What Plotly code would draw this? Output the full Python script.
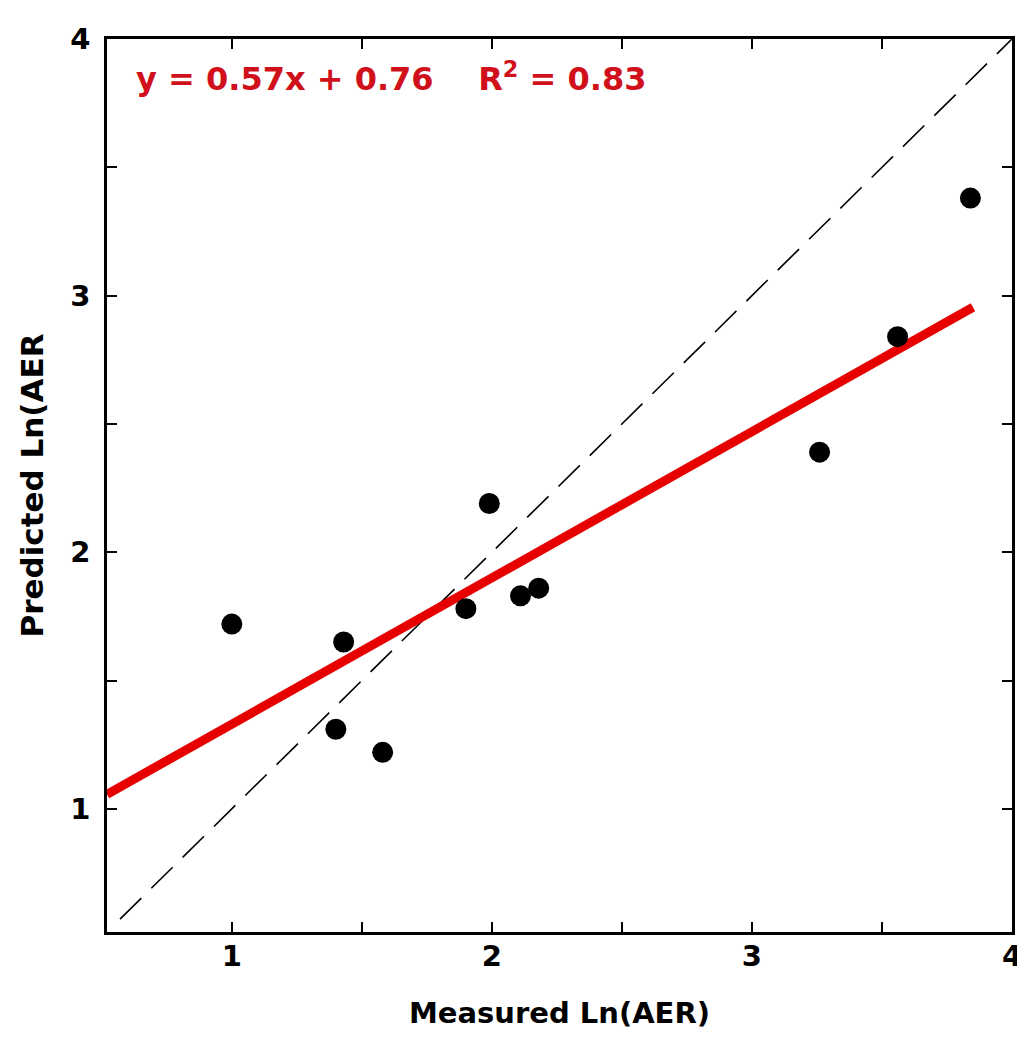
import plotly.graph_objects as go

# measured vs predicted Ln(AER)
measured = [1.00, 1.43, 1.40, 1.58, 1.90, 1.99, 2.11, 2.18, 3.26, 3.56, 3.84]
predicted = [1.72, 1.65, 1.31, 1.22, 1.78, 2.19, 1.83, 1.86, 2.39, 2.84, 3.38]

# regression fit y = slope*x + intercept
slope = 0.57
intercept = 0.76
r2 = 0.83
fit_x = [0.52, 3.85]
fit_y = [slope * v + intercept for v in fit_x]

# 1:1 line
identity = [0.57, 4.0]

axis_range = [0.52, 4.0]
tick_vals = [1, 2, 3, 4]

FONT = "DejaVu Sans"

fig = go.Figure()

fig.add_trace(go.Scatter(
    x=identity, y=identity, mode="lines",
    line=dict(color="black", width=1.6, dash="30px,14px"),
    showlegend=False,
))

fig.add_trace(go.Scatter(
    x=fit_x, y=fit_y, mode="lines",
    line=dict(color="#e60000", width=9),
    showlegend=False,
))

fig.add_trace(go.Scatter(
    x=measured, y=predicted, mode="markers",
    marker=dict(color="black", size=21),
    showlegend=False,
))

fig.add_annotation(
    x=0.03, y=0.957, xref="paper", yref="paper",
    xanchor="left", yanchor="middle", showarrow=False,
    text=f"<b>y = {slope:.2f}x + {intercept:.2f}    R<sup>2</sup> = {r2:.2f}</b>",
    font=dict(family=FONT, size=32, color="#d0101a"),
)

axis_common = dict(
    range=axis_range,
    tickvals=tick_vals,
    ticks="inside",
    ticklen=10,
    tickwidth=2,
    tickcolor="black",
    minor=dict(dtick=0.5, tick0=0, ticks="inside", ticklen=10,
               tickwidth=2, tickcolor="black"),
    showline=True,
    linecolor="black",
    linewidth=2.5,
    mirror="allticks",
    showgrid=False,
    zeroline=False,
    tickfont=dict(family=FONT, size=29, color="black", weight="bold"),
)

fig.update_xaxes(
    **axis_common,
    ticklabelstandoff=-4,
    title=dict(text="<b>Measured Ln(AER)</b>", standoff=32,
               font=dict(family=FONT, size=29, color="black")),
)
fig.update_yaxes(
    **axis_common,
    ticklabelstandoff=8,
    title=dict(text="<b>Predicted Ln(AER</b>", standoff=18,
               font=dict(family=FONT, size=31, color="black")),
)

fig.update_layout(
    width=1025,
    height=1050,
    margin=dict(l=99, r=21, t=31, b=126),
    paper_bgcolor="white",
    plot_bgcolor="white",
    showlegend=False,
)

fig.write_html("out.html")
